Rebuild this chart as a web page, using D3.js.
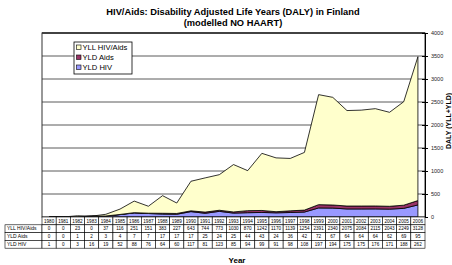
<!DOCTYPE html>
<html>
<head>
<meta charset="utf-8">
<script src="https://cdn.jsdelivr.net/npm/d3@7"></script>
<style>
  body { margin: 0; background: #fff; }
  svg { display: block; font-family: "Liberation Sans", Arial, sans-serif; }
</style>
</head>
<body>
<svg width="452" height="265"></svg>
<script>
// data
const years = [1980, 1981, 1982, 1983, 1984, 1985, 1986, 1987, 1988, 1989, 1990, 1991, 1992, 1993,
  1994, 1995, 1996, 1997, 1998, 1999, 2000, 2001, 2002, 2003, 2004, 2005, 2006];
const yllHivAids = [0, 0, 23, 0, 37, 116, 251, 151, 383, 227, 643, 744, 773, 1030,
  870, 1242, 1170, 1139, 1254, 2391, 2340, 2075, 2084, 2115, 2043, 2249, 3128];
const yldAids = [0, 0, 1, 2, 3, 4, 7, 7, 17, 17, 17, 25, 24, 25,
  44, 43, 24, 36, 42, 72, 67, 64, 64, 64, 62, 69, 95];
const yldHiv = [1, 0, 3, 16, 19, 52, 88, 76, 64, 60, 117, 81, 123, 85,
  94, 99, 91, 98, 108, 197, 194, 175, 175, 176, 171, 188, 262];
const yTicks = [0, 500, 1000, 1500, 2000, 2500, 3000, 3500, 4000];

const series = [
  { name: "YLL HIV/Aids", values: yllHivAids, color: "#FFFFCC" },
  { name: "YLD Aids", values: yldAids, color: "#993366" },
  { name: "YLD HIV", values: yldHiv, color: "#9999FF" }
];

const pLeft = 42, pRight = 425, pTop = 33, pBottom = 217;
const rowH = 7.8;

const svg = d3.select("svg");

const x = d3.scaleBand().domain(years).range([pLeft, pRight]);
const y = d3.scaleLinear().domain([0, 4000]).range([pBottom, pTop]);
const cx = d => x(d) + x.bandwidth() / 2;

// title
svg.append("text").attr("x", 233).attr("y", 15).attr("text-anchor", "middle")
  .attr("font-size", 9.3).attr("font-weight", "bold")
  .text("HIV/Aids: Disability Adjusted Life Years (DALY) in Finland");
svg.append("text").attr("x", 233).attr("y", 25.5).attr("text-anchor", "middle")
  .attr("font-size", 9.3).attr("font-weight", "bold")
  .text("(modelled NO HAART)");

// gridlines
svg.append("g").selectAll("line").data(yTicks.slice(1)).enter().append("line")
  .attr("x1", pLeft).attr("x2", pRight)
  .attr("y1", d => y(d)).attr("y2", d => y(d))
  .attr("stroke", "#5a5a5a").attr("stroke-width", 1);

// stacked areas
const table = years.map((yr, i) => ({ year: yr, yllHivAids: yllHivAids[i], yldAids: yldAids[i], yldHiv: yldHiv[i] }));
const stack = d3.stack().keys(["yldHiv", "yldAids", "yllHivAids"]);
const layers = stack(table);
const colors = { yldHiv: "#9999FF", yldAids: "#993366", yllHivAids: "#FFFFCC" };

const area = d3.area()
  .x(d => cx(d.data.year))
  .y0(d => y(d[0]))
  .y1(d => y(d[1]));

svg.append("g").selectAll("path").data(layers).enter().append("path")
  .attr("d", area)
  .attr("fill", d => colors[d.key])
  .attr("stroke", "#000").attr("stroke-width", 0.8).attr("stroke-linejoin", "round");

// plot border
svg.append("rect").attr("x", pLeft).attr("y", pTop)
  .attr("width", pRight - pLeft).attr("height", pBottom - pTop)
  .attr("fill", "none").attr("stroke", "#333").attr("stroke-width", 1);
svg.append("line").attr("x1", pLeft).attr("x2", pRight).attr("y1", pTop).attr("y2", pTop)
  .attr("stroke", "#333").attr("stroke-width", 1.6);

// right axis
const axis = svg.append("g")
  .attr("transform", `translate(${pRight},0)`)
  .call(d3.axisRight(y).tickValues(yTicks).tickFormat(d3.format("d")).tickSize(3).tickPadding(3));
axis.select(".domain").attr("stroke", "#000");
axis.selectAll(".tick line").attr("x1", -3).attr("stroke", "#000");
axis.selectAll(".tick text").attr("font-size", 5.5).attr("fill", "#222")
  .attr("font-family", "Liberation Sans, Arial, sans-serif");

svg.append("text")
  .attr("transform", `translate(451,${(pTop + pBottom) / 2 - 4}) rotate(-90)`)
  .attr("text-anchor", "middle").attr("font-size", 7).attr("font-weight", "bold")
  .text("DALY (YLL+YLD)");

// data table
const tbl = svg.append("g");
tbl.selectAll("rect.yr").data(years).enter().append("rect")
  .attr("x", d => x(d)).attr("y", pBottom).attr("width", x.bandwidth()).attr("height", rowH)
  .attr("fill", "#fff").attr("stroke", "#000").attr("stroke-width", 0.6);
tbl.selectAll("text.yr").data(years).enter().append("text")
  .attr("x", d => cx(d)).attr("y", pBottom + rowH / 2 + 1.6).attr("text-anchor", "middle")
  .attr("font-size", 4.6).text(d => d);

series.forEach((s, r) => {
  const ry = pBottom + rowH * (r + 1);
  tbl.append("rect").attr("x", 5).attr("y", ry).attr("width", pLeft - 5).attr("height", rowH)
    .attr("fill", "#fff").attr("stroke", "#000").attr("stroke-width", 0.6);
  tbl.append("text").attr("x", 7).attr("y", ry + rowH / 2 + 1.7)
    .attr("font-size", 5).text(s.name);
  tbl.selectAll(null).data(years).enter().append("rect")
    .attr("x", d => x(d)).attr("y", ry).attr("width", x.bandwidth()).attr("height", rowH)
    .attr("fill", "#fff").attr("stroke", "#000").attr("stroke-width", 0.6);
  tbl.selectAll(null).data(s.values).enter().append("text")
    .attr("x", (d, i) => cx(years[i])).attr("y", ry + rowH / 2 + 1.6).attr("text-anchor", "middle")
    .attr("font-size", 4.6).text(d => d);
});

svg.append("text").attr("x", 237).attr("y", 263).attr("text-anchor", "middle")
  .attr("font-size", 8).attr("font-weight", "bold").text("Year");

// legend
const lg = svg.append("g").attr("transform", "translate(74,42)");
lg.append("rect").attr("width", 58).attr("height", 32)
  .attr("fill", "#fff").attr("stroke", "#000").attr("stroke-width", 0.8);
series.forEach((s, i) => {
  const gy = 5.5 + i * 10;
  lg.append("rect").attr("x", 2.5).attr("y", gy - 2.5).attr("width", 4.5).attr("height", 4.5)
    .attr("fill", s.color).attr("stroke", "#000").attr("stroke-width", 0.6);
  lg.append("text").attr("x", 8.5).attr("y", gy + 2.6).attr("font-size", 7.6).text(s.name);
});
</script>
</body>
</html>
